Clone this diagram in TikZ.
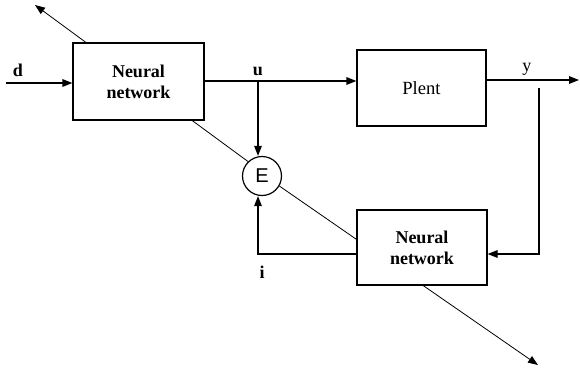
\documentclass[tikz,border=0pt]{standalone}
\usepackage{fontspec}
\setmainfont{Liberation Serif}
\newfontfamily\esans{Liberation Sans}
\usetikzlibrary{arrows.meta,backgrounds}
\begin{document}
\begin{tikzpicture}[x=0.5pt,y=-0.5pt,
  line width=0.6pt,
  tip/.style={-{Triangle[length=5pt,width=3.8pt]}},
  blockbox/.style={draw,fill=white,inner sep=0pt,align=center,font=\fontsize{9}{10.5}\selectfont},
  lbl/.style={font=\fontsize{9}{10}\selectfont\bfseries,inner sep=0pt}]
\useasboundingbox (0,0) rectangle (580,372);
\node[blockbox,minimum width=65.5pt,minimum height=38.5pt,font=\fontsize{9}{10.5}\selectfont\bfseries] (nn1) at (138.5,81.5) {Neural\\network};
\node[blockbox,minimum width=64.5pt,minimum height=38pt,font=\fontsize{9.3}{10.5}\selectfont] (plant) at (421.5,88) {Plent};
\node[blockbox,minimum width=65pt,minimum height=37.5pt,font=\fontsize{9}{10.5}\selectfont\bfseries] (nn2) at (422,247.5) {Neural\\network};
\node[draw,circle,fill=white,minimum size=19.5pt,inner sep=0pt,font=\esans\fontsize{10}{11}\selectfont] (E) at (262,176) {E};
\coordinate (din) at (6,83);
\coordinate (ub) at (258,81);
\coordinate (yout) at (579,80);
\coordinate (ytap) at (539,88);
\coordinate (fb) at (539,254);
\coordinate (ic) at (258,254);
\coordinate (tip1) at (35,5);
\coordinate (tip2) at (538,365);
\node[lbl] (ld) at (18,70) {d};
\node[lbl] (lu) at (258,71) {u};
\node[lbl,font=\fontsize{9}{10}\selectfont] (ly) at (527,69) {y};
\node[lbl] (li) at (262,272) {i};
\draw[tip] (din) -- (din -| nn1.west);
\draw[tip] (nn1.east |- ub) -- (ub -| plant.west);
\draw[tip] (ub) -- (ub |- E.north);
\draw[tip] (plant.east |- yout) -- (yout);
\draw[tip] (ytap) -- (fb) -- (fb -| nn2.east);
\draw[tip] (ic -| nn2.west) -- (ic) -- (ic |- E.south);
\begin{scope}[on background layer]
\draw[tip] (E.134) -- (tip1);
\draw[tip] (E.-30) -- (tip2);
\end{scope}
\end{tikzpicture}
\end{document}
